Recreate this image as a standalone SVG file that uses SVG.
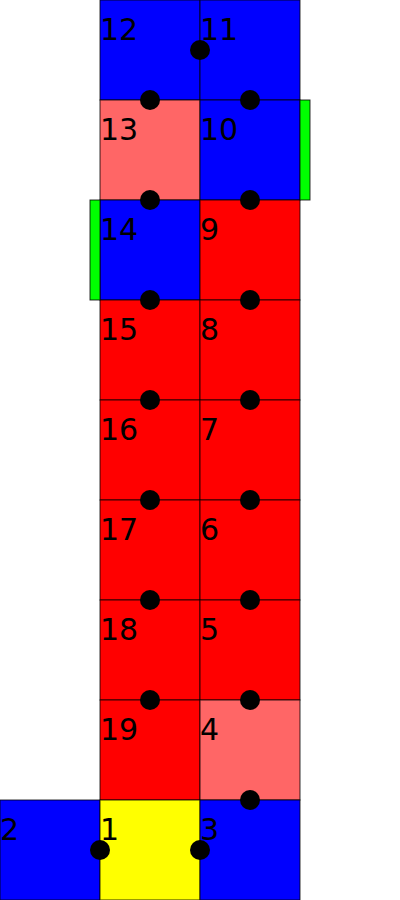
<svg xmlns="http://www.w3.org/2000/svg" width="400" height="900" viewBox="0 0 400 900">
<style>
rect{stroke:#000;stroke-width:1;stroke-opacity:0.8}
.b{fill:#0000ff}.r{fill:#ff0000}.l{fill:#ff6666}.y{fill:#ffff00}.g{fill:#00ff00}
text{font-family:"DejaVu Sans",sans-serif;font-size:30px;fill:#000}
circle{fill:#000}
</style>
<g id="n12"><rect class="b" x="100" y="0" width="100" height="100"/><text x="100" y="40">12</text></g>
<g id="n11"><rect class="b" x="200" y="0" width="100" height="100"/><text x="200" y="40">11</text></g>
<g id="n13"><rect class="l" x="100" y="100" width="100" height="100"/><text x="100" y="140">13</text></g>
<g id="n10"><rect class="b" x="200" y="100" width="100" height="100"/><text x="200" y="140">10</text></g>
<g id="n14"><rect class="b" x="100" y="200" width="100" height="100"/><text x="100" y="240">14</text></g>
<g id="n9"><rect class="r" x="200" y="200" width="100" height="100"/><text x="200" y="240">9</text></g>
<g id="n15"><rect class="r" x="100" y="300" width="100" height="100"/><text x="100" y="340">15</text></g>
<g id="n8"><rect class="r" x="200" y="300" width="100" height="100"/><text x="200" y="340">8</text></g>
<g id="n16"><rect class="r" x="100" y="400" width="100" height="100"/><text x="100" y="440">16</text></g>
<g id="n7"><rect class="r" x="200" y="400" width="100" height="100"/><text x="200" y="440">7</text></g>
<g id="n17"><rect class="r" x="100" y="500" width="100" height="100"/><text x="100" y="540">17</text></g>
<g id="n6"><rect class="r" x="200" y="500" width="100" height="100"/><text x="200" y="540">6</text></g>
<g id="n18"><rect class="r" x="100" y="600" width="100" height="100"/><text x="100" y="640">18</text></g>
<g id="n5"><rect class="r" x="200" y="600" width="100" height="100"/><text x="200" y="640">5</text></g>
<g id="n19"><rect class="r" x="100" y="700" width="100" height="100"/><text x="100" y="740">19</text></g>
<g id="n4"><rect class="l" x="200" y="700" width="100" height="100"/><text x="200" y="740">4</text></g>
<g id="n2"><rect class="b" x="0" y="800" width="100" height="100"/><text x="0" y="840">2</text></g>
<g id="n1"><rect class="y" x="100" y="800" width="100" height="100"/><text x="100" y="840">1</text></g>
<g id="n3"><rect class="b" x="200" y="800" width="100" height="100"/><text x="200" y="840">3</text></g>
<g id="bars">
<rect class="g" x="300" y="100" width="10" height="100"/>
<rect class="g" x="90" y="200" width="10" height="100"/>
</g>
<g id="connectors">
<circle cx="200" cy="50" r="10"/>
<circle cx="150" cy="100" r="10"/><circle cx="250" cy="100" r="10"/>
<circle cx="150" cy="200" r="10"/><circle cx="250" cy="200" r="10"/>
<circle cx="150" cy="300" r="10"/><circle cx="250" cy="300" r="10"/>
<circle cx="150" cy="400" r="10"/><circle cx="250" cy="400" r="10"/>
<circle cx="150" cy="500" r="10"/><circle cx="250" cy="500" r="10"/>
<circle cx="150" cy="600" r="10"/><circle cx="250" cy="600" r="10"/>
<circle cx="150" cy="700" r="10"/><circle cx="250" cy="700" r="10"/>
<circle cx="250" cy="800" r="10"/>
<circle cx="100" cy="850" r="10"/><circle cx="200" cy="850" r="10"/>
</g>
</svg>
